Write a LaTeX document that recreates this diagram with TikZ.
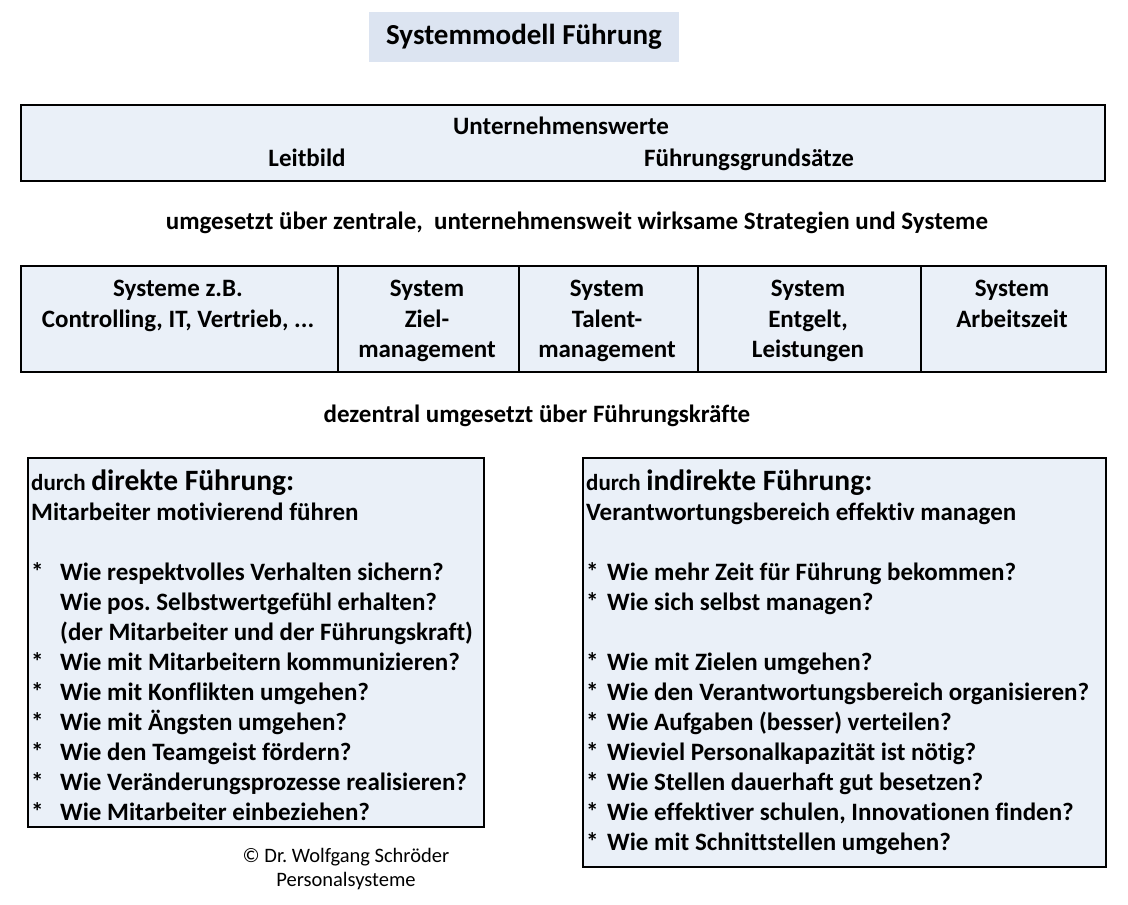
\documentclass[tikz,border=0pt]{standalone}
\usepackage{fontspec}
\setmainfont{Carlito}[Ligatures=NoCommon]
\frenchspacing
\usetikzlibrary{positioning}
\definecolor{titelblau}{RGB}{220,228,241}
\definecolor{feldblau}{RGB}{234,240,248}

\begin{document}
\begin{tikzpicture}[x=1pt, y=-1pt,
    feld/.style={draw=black, line width=1.6pt, fill=feldblau, inner sep=0pt, anchor=north west},
    txt/.style={font=\fontsize{25}{30}\selectfont\bfseries, inner sep=0pt},
    zeile/.style={txt, anchor=base west},
    zelle/.style={txt, font=\fontsize{25}{30.5}\selectfont\bfseries, align=center, anchor=north}
]
\useasboundingbox (0,0) rectangle (1128,905);

% Titel
\node[fill=titelblau, minimum width=310, minimum height=50, font=\fontsize{29}{32}\selectfont\bfseries] (titel) at (524,37) {Systemmodell Führung};

% Werte
\node[feld, minimum width=1084, minimum height=76] (werte) at (20,104) {};
\node[txt, anchor=base] (uwerte) at (561,134) {Unternehmenswerte};
\node[txt, anchor=base] (leitbild) at (307,166) {Leitbild};
\node[txt, anchor=base] (grundsaetze) at (749,166) {Führungsgrundsätze};

\node[txt, anchor=base] (zentral) at (577,229) {umgesetzt über zentrale,\ \ unternehmensweit wirksame Strategien und Systeme};

% Systeme
\foreach \a/\b/\n in {20/337/s1, 337/518/s2, 518/697/s3, 697/920/s4, 920/1105/s5}
  \node[feld, minimum width=\b-\a, minimum height=106] (\n) at (\a,265) {};
\node[zelle] (t1) at (178,275) {\strut Systeme z.B.\\Controlling, IT, Vertrieb, ...};
\node[zelle] (t2) at (427,275) {\strut System\\Ziel-\\management};
\node[zelle] (t3) at (607,275) {\strut System\\Talent-\\management};
\node[zelle] (t4) at (808,275) {\strut System\\Entgelt,\\Leistungen};
\node[zelle] (t5) at (1012,275) {\strut System\\Arbeitszeit};

\node[txt, anchor=base] (dezentral) at (537,422) {dezentral umgesetzt über Führungskräfte};

% direkte Fuehrung
\node[feld, minimum width=456, minimum height=369] (direkt) at (27,457) {};
\node[zeile] (dkopf) at (31,490) {{\fontsize{23}{30}\selectfont durch} {\fontsize{29.5}{30}\selectfont direkte Führung:}};
\node[zeile] (dsub) at (31,520) {Mitarbeiter motivierend führen};
\foreach \y/\s/\t in {580/*/{Wie respektvolles Verhalten sichern?},
    610//{Wie pos. Selbstwertgefühl erhalten?},
    640//{(der Mitarbeiter und der Führungskraft)},
    670/*/{Wie mit Mitarbeitern kommunizieren?},
    700/*/{Wie mit Konflikten umgehen?},
    730/*/{Wie mit Ängsten umgehen?},
    760/*/{Wie den Teamgeist fördern?},
    790/*/{Wie Veränderungsprozesse realisieren?},
    820/*/{Wie Mitarbeiter einbeziehen?}}
  \node[zeile] (d\y) at (31,\y) {\makebox[29pt][l]{\s}\t};

% indirekte Fuehrung
\node[feld, minimum width=523, minimum height=409] (indirekt) at (582,457) {};
\node[zeile] (ikopf) at (586,490) {{\fontsize{23}{30}\selectfont durch} {\fontsize{29.5}{30}\selectfont indirekte Führung:}};
\node[zeile] (isub) at (586,520) {Verantwortungsbereich effektiv managen};
\foreach \y/\t in {580/{Wie mehr Zeit für Führung bekommen?},
    610/{Wie sich selbst managen?},
    670/{Wie mit Zielen umgehen?},
    700/{Wie den Verantwortungsbereich organisieren?},
    730/{Wie Aufgaben (besser) verteilen?},
    760/{Wieviel Personalkapazität ist nötig?},
    790/{Wie Stellen dauerhaft gut besetzen?},
    820/{Wie effektiver schulen, Innovationen finden?},
    850/{Wie mit Schnittstellen umgehen?}}
  \node[zeile] (i\y) at (586,\y) {\makebox[21pt][l]{*}\t};

\node[font=\fontsize{20.5}{24}\selectfont, align=center, inner sep=0pt] (copy) at (346,869) {© Dr. Wolfgang Schröder\\Personalsysteme};
\end{tikzpicture}
\end{document}
